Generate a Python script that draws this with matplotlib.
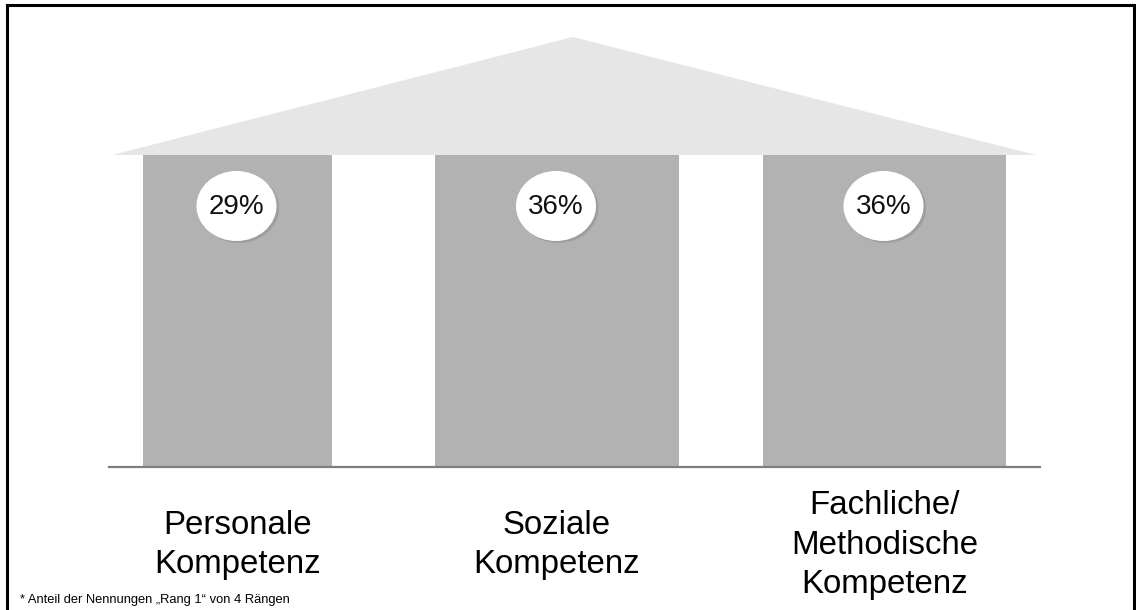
import matplotlib.pyplot as plt
from matplotlib.patches import Ellipse, Polygon

# values
categories = ['Personale\nKompetenz', 'Soziale\nKompetenz', 'Fachliche/\nMethodische\nKompetenz']
shares = [29, 36, 36]
footnote = '* Anteil der Nennungen \u201eRang 1\u201c von 4 R\u00e4ngen'

# column geometry in pixel space (y grows downwards)
col_left = [143, 435, 763]
col_right = [332, 679, 1006]
col_top = 155
col_bottom = 466

plt.rcParams['font.family'] = ['Liberation Sans', 'DejaVu Sans']

fig = plt.figure(figsize=(11.36, 6.10), dpi=100)
ax = fig.add_axes([0, 0, 1, 1])
ax.set_xlim(0, 1136)
ax.set_ylim(610, 0)
ax.axis('off')

# roof
roof = Polygon([(112, 155), (573, 37), (1036, 155)], closed=True,
               facecolor='#e6e6e6', edgecolor='none', zorder=1)
ax.add_patch(roof)

# columns
centers = [(l + r) / 2 for l, r in zip(col_left, col_right)]
widths = [r - l for l, r in zip(col_left, col_right)]
ax.bar(centers, col_bottom - col_top, width=widths, bottom=col_top,
       color='#b2b2b2', edgecolor='none', zorder=2)

# base line
ax.plot([109, 1040], [467, 467], color='#7f7f7f', lw=1.6, zorder=3)

for cx, val, lab in zip(centers, shares, categories):
    # little shadow then the white ellipse
    ax.add_patch(Ellipse((cx + 1.5, 208), 80, 70, facecolor='#8c8c8c',
                         edgecolor='none', alpha=0.5, zorder=4))
    ax.add_patch(Ellipse((cx - 1, 206), 80, 70, facecolor='white',
                         edgecolor='none', zorder=5))
    ax.text(cx - 1, 207, '%d%%' % val, ha='center', va='center',
            fontsize=20, color='#111111', zorder=6)
    ax.text(cx, 545, lab, ha='center', va='center', fontsize=23.8,
            linespacing=1.37, multialignment='center', color='black')

ax.text(20, 603, footnote, ha='left', va='baseline', fontsize=9.3, color='black')

# frame
ax.plot([7, 7], [610, 5], color='black', lw=2.2, clip_on=False)
ax.plot([7, 1134], [5, 5], color='black', lw=2.2, clip_on=False)
ax.plot([1134, 1134], [5, 610], color='black', lw=2.2, clip_on=False)

fig.savefig('out.png', dpi=100)
